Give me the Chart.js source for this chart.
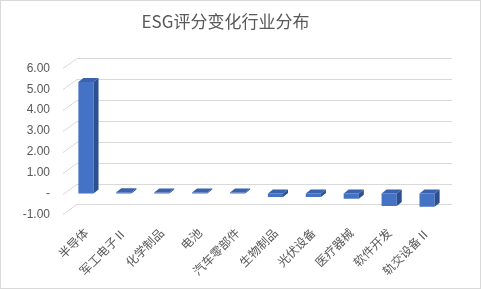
<!DOCTYPE html>
<html>
<head>
<meta charset="utf-8">
<script src="https://cdn.jsdelivr.net/npm/chart.js@4/dist/chart.umd.min.js"></script>
<style>
  html, body { margin: 0; padding: 0; background: #fff; }
  #wrap { width: 481px; height: 289px; }
</style>
</head>
<body>
<div id="wrap"><canvas id="esgChart" width="481" height="289"></canvas></div>
<script>
// data
const industries = ['半导体', '军工电子Ⅱ', '化学制品', '电池', '汽车零部件', '生物制品', '光伏设备', '医疗器械', '软件开发', '轨交设备Ⅱ'];
const scoreChange = [5.35, 0.06, 0.05, 0.05, 0.05, -0.17, -0.17, -0.25, -0.6, -0.63];
const yTicks = [-1, 0, 1, 2, 3, 4, 5, 6];

const DEPTH_X = 14, DEPTH_Y = 10;   // wall offset for the fake 3D look
const BAR_DX = 5, BAR_DY = 4;       // bar depth

// draws the slanted back-wall gridlines before the bars
const wallGrid = {
    id: 'wallGrid',
    beforeDatasetsDraw(chart) {
        const { ctx, chartArea } = chart;
        const y = chart.scales.y;
        ctx.save();
        ctx.strokeStyle = '#d9d9d9';
        ctx.lineWidth = 1;
        yTicks.forEach(v => {
            const py = Math.round(y.getPixelForValue(v)) + 0.5;
            const x0 = chartArea.left - 4;
            ctx.beginPath();
            ctx.moveTo(x0, py);
            ctx.lineTo(x0 + DEPTH_X, py - DEPTH_Y);
            ctx.lineTo(chartArea.right + 6, py - DEPTH_Y);
            ctx.stroke();
        });
        ctx.restore();
    }
};

// adds top and side faces to every bar
const bar3d = {
    id: 'bar3d',
    afterDatasetsDraw(chart) {
        const { ctx } = chart;
        const meta = chart.getDatasetMeta(0);
        ctx.save();
        meta.data.forEach(bar => {
            const left = bar.x - bar.width / 2;
            const right = bar.x + bar.width / 2;
            const top = Math.min(bar.y, bar.base);
            const bottom = Math.max(bar.y, bar.base);
            // side face
            ctx.fillStyle = '#2c4f8f';
            ctx.beginPath();
            ctx.moveTo(right, top);
            ctx.lineTo(right + BAR_DX, top - BAR_DY);
            ctx.lineTo(right + BAR_DX, bottom - BAR_DY);
            ctx.lineTo(right, bottom);
            ctx.closePath();
            ctx.fill();
            // top face
            ctx.fillStyle = '#3a62ad';
            ctx.beginPath();
            ctx.moveTo(left, top);
            ctx.lineTo(left + BAR_DX, top - BAR_DY);
            ctx.lineTo(right + BAR_DX, top - BAR_DY);
            ctx.lineTo(right, top);
            ctx.closePath();
            ctx.fill();
        });
        ctx.restore();
    }
};

const frame = {
    id: 'frame',
    afterDraw(chart) {
        const { ctx } = chart;
        ctx.save();
        ctx.strokeStyle = '#d9d9d9';
        ctx.lineWidth = 1;
        ctx.strokeRect(0.5, 0.5, chart.width - 1, chart.height - 1);
        ctx.restore();
    }
};

new Chart(document.getElementById('esgChart').getContext('2d'), {
    type: 'bar',
    data: {
        labels: industries,
        datasets: [{
            data: scoreChange,
            backgroundColor: '#4472c4',
            borderWidth: 0,
            barPercentage: 0.4,
            categoryPercentage: 1.0
        }]
    },
    options: {
        responsive: false,
        animation: false,
        layout: { padding: { left: 5, right: 35, top: 0, bottom: 0 } },
        plugins: {
            legend: { display: false },
            tooltip: { enabled: false },
            title: {
                display: true,
                text: 'ESG评分变化行业分布',
                color: '#595959',
                font: { family: "'Noto Sans CJK SC', 'Noto Sans', sans-serif", size: 17, weight: 'normal' },
                padding: { top: 11, bottom: 37 }
            }
        },
        scales: {
            y: {
                min: -1,
                max: 6,
                afterBuildTicks: s => { s.ticks = yTicks.map(v => ({ value: v })); },
                afterFit: s => { s.width = 62; },
                grid: { display: false, drawTicks: false },
                border: { display: false },
                ticks: {
                    padding: 17,
                    color: '#595959',
                    font: { family: "'Liberation Sans', 'DejaVu Sans', sans-serif", size: 12 },
                    callback: v => v === 0 ? '-' : v.toFixed(2)
                }
            },
            x: {
                grid: { display: false, drawTicks: false },
                border: { display: false },
                ticks: {
                    minRotation: 45,
                    maxRotation: 45,
                    padding: 11,
                    color: '#595959',
                    font: { family: "'Noto Sans CJK SC', sans-serif", size: 12 }
                }
            }
        }
    },
    plugins: [wallGrid, bar3d, frame]
});
</script>
</body>
</html>
